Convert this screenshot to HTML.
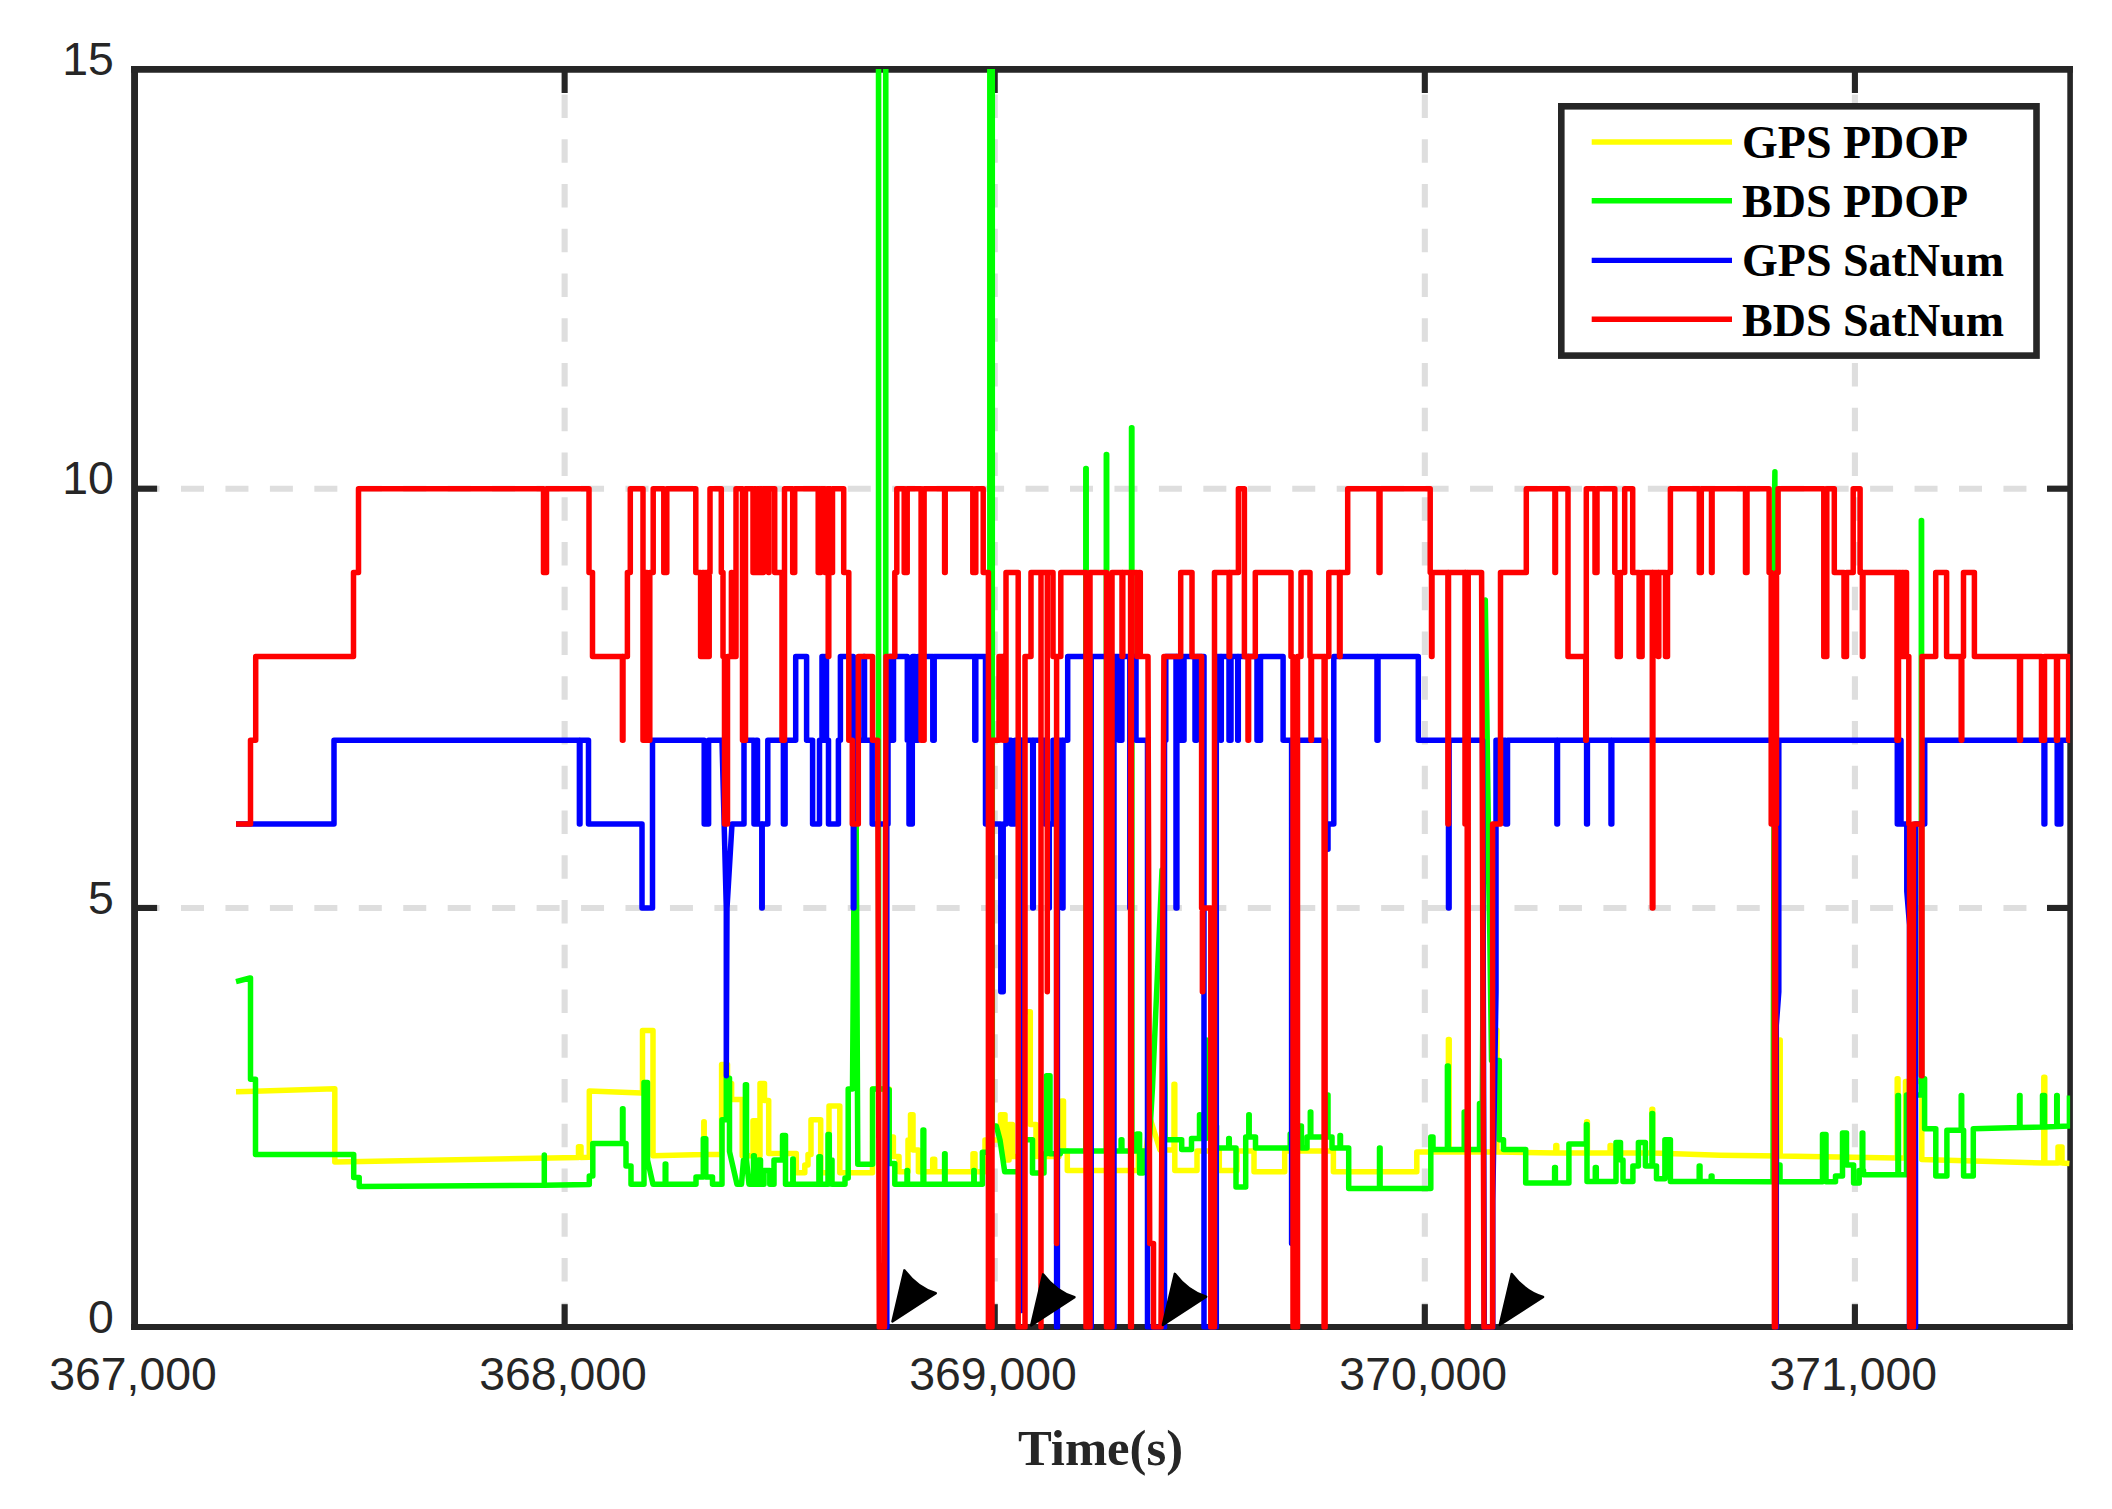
<!DOCTYPE html>
<html lang="en"><head><meta charset="utf-8"><title>PDOP and satellite number</title>
<style>html,body{margin:0;padding:0;background:#fff}body{width:2112px;height:1509px;overflow:hidden}svg{display:block}.tk{font-family:"Liberation Sans",Arial,Helvetica,sans-serif;font-size:46.4px;fill:#262626}.lg{font-family:"Liberation Serif","Times New Roman",Times,serif;font-weight:bold;font-size:46px;fill:#000}.xl{font-family:"Liberation Serif","Times New Roman",Times,serif;font-weight:bold;font-size:50.7px;fill:#262626}.ln{fill:none;stroke-width:5.5;stroke-linejoin:round;stroke-linecap:butt}</style></head><body>
<svg width="2112" height="1509" viewBox="0 0 2112 1509">
<rect x="0" y="0" width="2112" height="1509" fill="#fff"/>
<defs><clipPath id="c"><rect x="134.55" y="69" width="1935.55" height="1260.50"/></clipPath></defs>
<line x1="564.64" y1="94.6" x2="564.64" y2="1324" stroke="#dedede" stroke-width="6.1" stroke-dasharray="23.3 21.45"/>
<line x1="994.73" y1="94.6" x2="994.73" y2="1324" stroke="#dedede" stroke-width="6.1" stroke-dasharray="23.3 21.45"/>
<line x1="1424.82" y1="94.6" x2="1424.82" y2="1324" stroke="#dedede" stroke-width="6.1" stroke-dasharray="23.3 21.45"/>
<line x1="1854.91" y1="94.6" x2="1854.91" y2="1324" stroke="#dedede" stroke-width="6.1" stroke-dasharray="23.3 21.45"/>
<line x1="136.55" y1="907.95" x2="2067" y2="907.95" stroke="#dedede" stroke-width="6.1" stroke-dasharray="23 21.45"/>
<line x1="136.55" y1="488.70" x2="2067" y2="488.70" stroke="#dedede" stroke-width="6.1" stroke-dasharray="23 21.45"/>
<line x1="134.55" y1="65.9" x2="134.55" y2="1330.1" stroke="#262626" stroke-width="6.9"/>
<line x1="131.1" y1="69.35" x2="2072.9" y2="69.35" stroke="#262626" stroke-width="6.9"/>
<line x1="2070.10" y1="65.9" x2="2070.10" y2="1330.1" stroke="#262626" stroke-width="5.6"/>
<line x1="131.1" y1="1327.05" x2="2072.9" y2="1327.05" stroke="#262626" stroke-width="6.1"/>
<line x1="564.64" y1="72" x2="564.64" y2="93" stroke="#262626" stroke-width="6.1"/>
<line x1="564.64" y1="1304.2" x2="564.64" y2="1325" stroke="#262626" stroke-width="6.1"/>
<line x1="994.73" y1="72" x2="994.73" y2="93" stroke="#262626" stroke-width="6.1"/>
<line x1="994.73" y1="1304.2" x2="994.73" y2="1325" stroke="#262626" stroke-width="6.1"/>
<line x1="1424.82" y1="72" x2="1424.82" y2="93" stroke="#262626" stroke-width="6.1"/>
<line x1="1424.82" y1="1304.2" x2="1424.82" y2="1325" stroke="#262626" stroke-width="6.1"/>
<line x1="1854.91" y1="72" x2="1854.91" y2="93" stroke="#262626" stroke-width="6.1"/>
<line x1="1854.91" y1="1304.2" x2="1854.91" y2="1325" stroke="#262626" stroke-width="6.1"/>
<line x1="137" y1="907.95" x2="157.1" y2="907.95" stroke="#262626" stroke-width="6.1"/>
<line x1="2047" y1="907.95" x2="2068" y2="907.95" stroke="#262626" stroke-width="6.1"/>
<line x1="137" y1="488.70" x2="157.1" y2="488.70" stroke="#262626" stroke-width="6.1"/>
<line x1="2047" y1="488.70" x2="2068" y2="488.70" stroke="#262626" stroke-width="6.1"/>
<g clip-path="url(#c)">
<path class="ln" stroke="#ffff00" d="M236.0,1091.8L334.8,1088.7V1162.0L578.5,1157.6V1146.7H581.0V1157.5L589.3,1157.3V1091.0L641.5,1093.0H642.5V1030.6H653.0V1155.7L704.0,1154.6H703.8V1121.8H704.2V1154.6H721.6V1064.5H727.5V1083.6H731.6V1099.5H742.2V1155.7H753.0V1120.7H757.5V1155.7H760.0V1083.6H764.5V1100.6H768.7V1153.6H796.3V1172.7H804.8V1165.0H808.0V1154.6H811.0V1119.7H820.7V1172.7H829.0V1105.9H839.8V1172.7H872.5V1089.0H889.2V1137.0H893.4V1156.5H899.0V1171.8H908.0V1140.0H910.5V1114.8H913.0V1150.0H918.4V1171.8H932.7V1159.3H934.7V1171.8H973.0V1153.7H975.0V1171.8H985.0V1140.0H1000.5V1114.8H1005.0V1160.0H1009.0V1124.5H1012.5V1156.5H1022.0V1011.8H1030.3V1124.5H1036.0V1156.5H1059.0V1151.0H1061.7V1100.9H1063.5V1151.0H1067.3V1170.4H1138.2V1151.0L1146.0,1151.0L1150.0,1118.0L1160.0,1150.0H1174.0V1084.2H1174.8V1170.4H1197.0V1151.0H1219.3V1170.4H1237.0V1151.0H1254.0V1171.8H1284.7V1151.0H1333.4V1171.8H1416.8V1152.0H1448.4V1039.6H1449.2V1152.0H1496.1V1030.0H1496.9V1152.0L1556.3,1153.0H1555.8V1145.4H1556.8V1153.0H1586.6V1121.7H1587.4V1153.0H1610.1V1145.4H1611.1V1153.0H1651.9V1109.2H1652.7V1153.0L1720.0,1155.2L1779.9,1156.0H1779.7V1040.0H1780.2V1156.0L1896.0,1158.0H1897.2V1078.7H1898.0V1158.0H1905.5V1081.5H1921.8V1159.4L2043.5,1163.0H2043.8V1077.3H2044.8V1163.0H2058.0V1147.0H2062.0V1163.0L2069.4,1163.6"/>
<path class="ln" stroke="#00ff00" d="M236.0,981.6L250.0,978.0H250.5V1079.3H255.5V1154.5H353.7V1177.4H359.2V1186.5L544.3,1185.3L544.3,1155.0L544.3,1185.3L589.3,1184.5V1176.0H592.8V1143.6H622.5V1108.8H623.0V1143.6H626.0V1166.0H631.0V1184.3H644.0V1082.6H647.5V1160.0L653.0,1184.3H665.2V1164.0H665.8V1184.3H696.0V1177.0H703.3V1138.7H705.8V1177.0H712.5V1184.3H722.0V1119.7H726.3V1078.3H729.5V1151.5L737.0,1184.3H741.5L743.5,1160.0H745.4V1084.7H746.5V1160.0L749.0,1184.3H753.5V1155.7H754.3V1184.3H758.5V1160.0H760.5V1184.3H764.0V1170.5H769.8V1184.3H774.0V1160.0H782.5V1135.6H785.5V1184.3H792.8V1159.0H793.2V1184.3H818.9V1156.8H820.4V1184.3H828.0V1134.5H829.3V1160.0H832.0V1184.3H845.0V1178.0H848.2V1089.0L852.5,1089.0L855.5,673.0L857.8,1164.2H872.6V1089.0H878.5V-50.0H878.6V1089.0H885.7V-50.0H885.8V1089.7H889.2V1163.5H894.8V1184.3H907.0V1170.4H907.5V1184.3H923.0V1130.0H923.8V1184.3H944.6V1153.7H945.1V1184.3H973.8V1170.4H974.2V1184.3H982.4V1152.3H989.8V-50.0H992.3V1125.9L996.3,1125.9L1000.0,1140.0L1003.0,1160.0L1004.7,1171.8H1014.4H1020.0V1139.8H1032.5V1173.0H1044.0V1153.7H1046.5V1075.8H1050.0V1153.7H1060.3V1150.9H1085.8V468.5H1086.2V1150.9H1106.3V454.5H1106.7V1150.9H1121.1V1139.8H1121.9V1150.9H1131.5V427.7H1131.9V1150.9H1137.0V1134.0H1139.6V1173.0H1143.0V1151.0H1145.0V1165.0L1148.0,1165.0L1152.5,1087.0L1162.0,870.0L1165.0,1089.7L1165.0,1139.8H1181.7V1149.5H1191.5V1138.4H1199.5V1114.8H1200.0V1138.4H1206.0V1040.0H1206.5V1125.9H1216.5V1148.0H1228.7V1138.4H1229.3V1148.0H1236.0V1187.0H1245.7V1137.0H1248.8V1114.8H1249.2V1137.0H1255.5V1148.0H1290.2V1134.0H1295.0V1125.9H1301.4V1148.0H1307.0V1137.0H1310.3V1112.0H1310.8V1137.0H1325.0H1327.5V1095.0H1328.0V1137.0H1332.0V1148.0H1340.0V1135.6H1340.5V1148.0H1348.7V1188.5H1379.5V1148.0H1380.1V1188.5H1430.8V1137.0H1433.0V1149.5H1447.4V1066.0H1448.2V1149.5H1464.2V1112.0H1464.8V1149.5H1479.5V1103.6H1480.0V1149.5H1482.0L1485.3,600.0L1491.5,1060.5H1499.3V1139.8H1503.5V1149.5H1525.7V1183.0H1554.6V1167.6H1555.4V1183.0H1568.9V1144.0H1586.4V1124.5H1587.0V1181.5H1595.3V1167.6H1596.3V1181.5H1616.0V1142.6H1620.5V1160.0H1623.0V1181.5H1632.9V1166.0H1638.4V1142.6H1645.4V1166.0H1652.0V1113.4H1652.6V1166.0H1656.5V1178.8H1664.9V1139.8H1670.4V1181.5H1699.2V1166.0H1700.0V1181.5H1711.2V1176.0H1712.0V1181.5L1773.0,1181.7L1774.9,471.8L1773.6,560.0L1776.5,1165.0H1780.0V1181.7H1822.5V1134.4H1826.0V1181.7H1835.5V1176.0H1842.5V1133.0H1846.5V1165.0H1853.6V1183.0H1859.2V1170.5H1862.2V1133.0H1862.8V1170.5H1863.5V1174.7H1897.9V1095.4H1898.5V1174.7H1906.5V1095.0H1921.3V520.5H1921.6V1078.7H1924.6V1128.8H1935.8V1176.0H1946.9V1130.2H1961.2V1095.4H1961.7V1130.2H1963.6V1176.0H1973.3V1128.8L2019.8,1127.5H2019.5V1095.4H2020.0V1127.5L2043.5,1127.0H2042.5V1095.4H2044.5V1127.0L2056.9,1126.5H2056.7V1095.4H2057.2V1126.5L2069.4,1126.0L2069.4,1095.4"/>
<path class="ln" stroke="#0000ff" d="M236.0,824.1H334.0V740.3H579.4V824.1H580.0V740.3H588.5V824.1H642.0V908.0H652.5V740.3H704.2V824.1H708.6V740.3H722.0L726.3,908.0L726.3,1075.7L727.0,908.0L732.0,824.1H744.0V740.3H754.0V824.1H756.0V740.3H757.5V824.1H761.8V908.0H762.2V824.1H767.8V740.3H783.4V824.1H785.1V740.3H795.7V656.4H806.6V740.3H812.6V824.1H819.5V740.3H822.0V656.4H823.5V740.3H825.0V656.4H826.5V740.3H828.5V824.1H838.4V740.3H840.4V656.4H853.3V908.0H853.9V740.3H863.9V656.4H864.5V740.3H872.2V824.1H886.2V1327.2H886.8V824.1H888.0V740.3H890.0V656.4H891.5V740.3H893.5V656.4H907.3V740.3H909.0V824.1H912.3V740.3H912.6V656.4H915.0V740.3H918.0V656.4H932.8V740.3H934.2V656.4H974.8V740.3H975.8V656.4H985.5V824.1H1000.8V991.8H1003.2V824.1H1006.0V740.3H1011.0V824.1H1015.0V740.3H1021.4V1310.4H1021.6V740.3H1032.7V908.0H1033.3V740.3H1045.0V824.1H1048.7V908.0H1049.3V824.1H1053.0V740.3H1056.6V1327.2H1057.4V740.3H1062.4V908.0H1063.0V740.3H1067.7V656.4H1090.8V1327.2H1091.2V656.4H1113.6V1327.2H1114.0V656.4H1118.9V740.3H1121.9V656.4H1129.8V908.0H1130.2V656.4H1136.0V740.3H1147.5V1327.2H1164.5V740.3H1165.8V656.4H1176.0V908.0H1176.9V656.4H1179.2V740.3H1180.4V656.4H1182.8V740.3H1184.0V656.4H1195.0V740.3H1196.8V656.4H1204.0V1327.2H1216.3V656.4H1220.7V740.3H1221.3V656.4H1229.0V740.3H1231.0V656.4H1237.7V740.3H1238.3V656.4H1257.0V740.3H1260.5V656.4H1283.1V740.3H1291.6V1243.4H1292.0V740.3H1325.5V849.3H1328.0V824.1H1333.8V656.4H1377.0V740.3H1378.0V656.4H1418.3V740.3H1448.5V908.0H1449.1V740.3H1482.6L1484.3,1327.2H1492.8L1492.8,1201.4L1496.0,991.8L1496.0,740.3H1505.5V824.1H1507.5V740.3H1556.9V824.1H1557.5V740.3H1586.6V824.1H1587.4V740.3H1611.0V824.1H1611.8V740.3H1778.8V991.8L1776.3,1025.3L1776.3,1327.2L1776.3,1025.3L1778.8,991.8L1778.8,740.3H1897.3V824.1H1899.2V740.3H1901.0V824.1H1906.8V891.2L1909.5,924.7L1909.5,1327.2H1915.5V824.1H1924.7V740.3H2044.0V824.1H2044.8V740.3H2057.2V824.1H2060.8V740.3H2069.8"/>
<path class="ln" stroke="#ff0000" d="M236.0,824.1H250.5V740.3H255.7V656.4H353.5V572.6H358.5V488.7H543.5V572.6H546.5V488.7H589.0V572.6H592.5V656.4H622.4V740.3H623.0V656.4H627.4V572.6H630.3V488.7H643.0V740.3H645.0V572.6H647.0V740.3H649.8V572.6H653.2V488.7H663.8V572.6H666.8V488.7H695.8V572.6H700.6V656.4H702.5V572.6H704.0V656.4H705.5V572.6H707.0V656.4H709.2V572.6H710.0V488.7H721.3V572.6H723.0V656.4H724.5V824.1H727.5V656.4H731.4V572.6H731.9V656.4H736.0V488.7H742.5V740.3H745.5V488.7H753.0V572.6H754.5V488.7H756.0V572.6H757.5V488.7H759.0V572.6H760.5V488.7H762.0V572.6H763.5V488.7H768.5V572.6H769.0V488.7H774.7V572.6H782.0V740.3H784.5V488.7H792.7V572.6H794.7V488.7H818.2V572.6H820.8V488.7H825.0V572.6H827.0V488.7H828.2V656.4H828.8V488.7H830.5V572.6H832.5V488.7H843.7V572.6H848.8V740.3H852.3V824.1H858.3V656.4H872.5V740.3H877.7L879.3,1327.2H884.5L886.0,656.4H894.8V572.6H896.8V488.7H904.2V572.6H907.2V488.7H921.1V740.3H924.1V488.7H944.6V572.6H945.2V488.7H972.8V572.6H975.8V488.7H983.2V572.6H988.4V1327.2H992.0V740.3H999.0V656.4H1003.0V740.3H1006.0V572.6H1018.2V1327.2H1025.0V656.4H1031.0V572.6H1041.0V1327.2V572.6H1047.3V991.8V572.6H1053.0V656.4H1056.6V1243.4V656.4H1060.8V572.6H1086.0V1327.2H1090.0V572.6H1106.5V1327.2H1112.0V572.6H1122.0V656.4H1122.8V572.6H1130.6V1327.2H1131.4V572.6H1137.0V656.4H1139.0V572.6H1140.3V656.4H1148.0L1149.7,1243.4H1153.5V1327.2H1161.0L1163.9,656.4H1180.7V572.6H1192.0V656.4H1201.6V908.0H1202.4V991.8H1202.8V908.0H1210.8V1327.2H1211.8V908.0H1213.0V1327.2H1214.5V572.6H1229.1V656.4H1229.7V572.6H1238.4V488.7H1244.4V656.4H1248.0V740.3H1248.6V656.4H1255.3V572.6H1291.0V656.4H1293.0V1327.2H1297.5V656.4H1301.0V572.6H1310.0V656.4H1311.0V740.3H1311.5V656.4H1324.1V1327.2H1325.1V656.4H1328.8V572.6H1339.5V656.4H1340.1V572.6H1347.7V488.7H1379.0V572.6H1380.0V488.7H1430.2V572.6H1431.5V656.4H1432.0V572.6H1447.9V824.1H1448.5V572.6H1465.0V824.1H1465.4V572.6H1467.2V1327.2H1468.2V572.6H1481.6L1484.0,1327.2H1492.6V824.1H1500.5V572.6H1526.3V488.7H1554.9V572.6H1555.5V488.7H1568.0V656.4H1585.7V740.3H1586.3V488.7H1595.0V572.6H1597.0V488.7H1614.8V572.6H1617.3V656.4H1620.3V572.6H1624.7V488.7H1632.7V572.6H1639.1V656.4H1642.1V572.6H1652.3V908.0H1652.9V572.6H1658.2V656.4H1658.8V572.6H1665.5V656.4H1667.5V572.6H1670.4V488.7H1699.3V572.6H1701.3V488.7H1711.5V572.6H1712.1V488.7H1745.5V572.6H1747.0V488.7H1769.1V572.6H1771.2V824.1H1774.4V1327.2H1775.6V824.1H1776.5V572.6H1778.1V488.7H1823.8V656.4H1826.8V488.7H1834.3V572.6H1844.0V656.4H1846.5V572.6H1853.2V488.7H1860.1V572.6H1862.4V656.4H1863.0V572.6H1897.0V740.3H1898.5V572.6H1900.5V656.4H1902.0V572.6H1903.5V656.4H1905.0V572.6H1906.5V656.4H1908.8V824.1H1909.6V1327.2H1913.4V824.1H1921.4V1075.7H1922.0V656.4H1935.7V572.6H1946.6V656.4H1961.2V740.3H1961.8V656.4H1963.5V572.6H1974.4V656.4H2019.5V740.3H2020.5V656.4H2041.5V740.3H2044.5V656.4H2056.5V740.3H2057.5V656.4H2068.6V740.3H2069.8V656.4"/>
</g>
<path d="M904.4,1270.3Q917.9,1288.0 935.8,1293.2L892.4,1321.4Z" fill="#000" stroke="#000" stroke-width="2.4" stroke-linejoin="round"/>
<path d="M1043.1,1274.3Q1056.6,1292.0 1074.5,1297.2L1031.1,1325.4Z" fill="#000" stroke="#000" stroke-width="2.4" stroke-linejoin="round"/>
<path d="M1174.8,1273.8Q1188.3,1291.5 1206.2,1296.7L1162.8,1324.9Z" fill="#000" stroke="#000" stroke-width="2.4" stroke-linejoin="round"/>
<path d="M1511.7,1274.0Q1525.2,1291.7 1543.1,1296.9L1499.7,1325.1Z" fill="#000" stroke="#000" stroke-width="2.4" stroke-linejoin="round"/>
<rect x="1561.3" y="106.3" width="475.2" height="249.3" fill="#fff" stroke="#262626" stroke-width="6.6"/>
<line x1="1591.7" y1="142.0" x2="1732" y2="142.0" stroke="#ffff00" stroke-width="5.4"/>
<text class="lg" x="1742" y="157.7">GPS PDOP</text>
<line x1="1591.7" y1="200.8" x2="1732" y2="200.8" stroke="#00ff00" stroke-width="5.4"/>
<text class="lg" x="1742" y="216.8">BDS PDOP</text>
<line x1="1591.7" y1="260.4" x2="1732" y2="260.4" stroke="#0000ff" stroke-width="5.4"/>
<text class="lg" x="1742" y="275.9">GPS SatNum</text>
<line x1="1591.7" y1="319.2" x2="1732" y2="319.2" stroke="#ff0000" stroke-width="5.4"/>
<text class="lg" x="1742" y="335.5">BDS SatNum</text>
<text class="tk" x="133.0" y="1389.5" text-anchor="middle">367,000</text>
<text class="tk" x="563.0" y="1389.5" text-anchor="middle">368,000</text>
<text class="tk" x="993.1" y="1389.5" text-anchor="middle">369,000</text>
<text class="tk" x="1423.2" y="1389.5" text-anchor="middle">370,000</text>
<text class="tk" x="1853.3" y="1389.5" text-anchor="middle">371,000</text>
<text class="tk" x="113.8" y="1332.9" text-anchor="end">0</text>
<text class="tk" x="113.8" y="913.7" text-anchor="end">5</text>
<text class="tk" x="113.8" y="494.4" text-anchor="end">10</text>
<text class="tk" x="113.8" y="75.2" text-anchor="end">15</text>
<text class="xl" x="1100.5" y="1465.2" text-anchor="middle">Time(s)</text>
</svg></body></html>
